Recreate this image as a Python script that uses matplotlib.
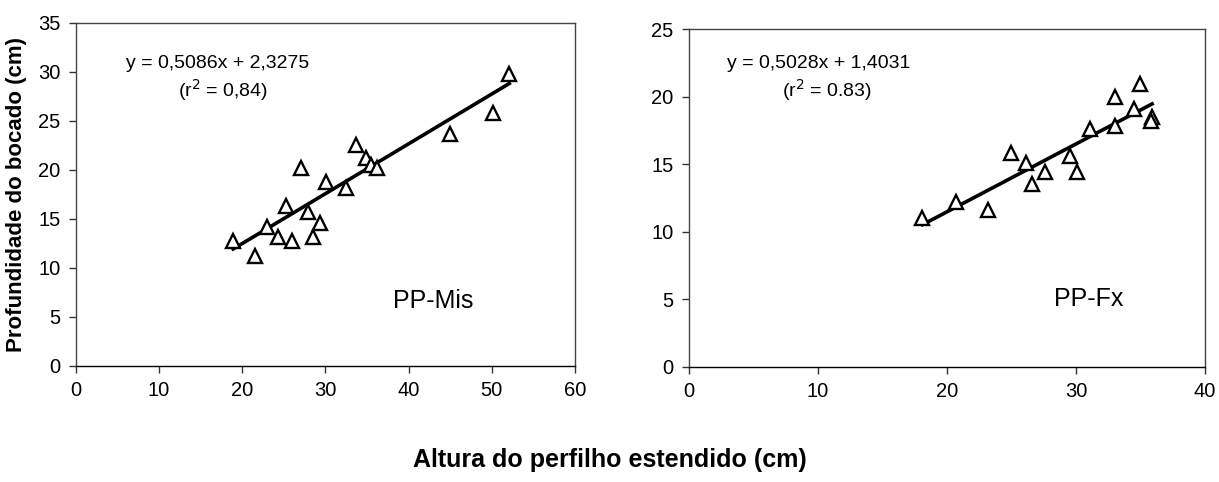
import numpy as np
import matplotlib
matplotlib.use("Agg")
import matplotlib.pyplot as plt

plt.rcParams['font.family'] = ['Liberation Sans', 'DejaVu Sans']

# ================================
# Data: PP-Mis
# ================================
mis_altura = [18.9, 21.5, 23.0, 24.3, 25.2, 26.0, 27.1, 27.9, 28.5, 29.4,
              30.1, 32.5, 33.7, 34.9, 35.5, 36.2, 45.0, 50.1, 52.1]
mis_prof = [12.8, 11.2, 14.2, 13.2, 16.3, 12.8, 20.2, 15.7, 13.2, 14.6,
            18.8, 18.2, 22.6, 21.2, 20.5, 20.2, 23.7, 25.8, 29.8]
mis_coef = (0.5086, 2.3275)

# ================================
# Data: PP-Fx
# ================================
fx_altura = [18.1, 20.7, 23.2, 25.0, 26.1, 26.6, 27.6, 29.5, 30.1, 31.1,
             33.0, 33.0, 34.5, 35.0, 35.9, 35.8]
fx_prof = [11.0, 12.2, 11.6, 15.8, 15.1, 13.5, 14.4, 15.6, 14.4, 17.6,
           19.95, 17.8, 19.1, 20.9, 18.5, 18.2]
fx_coef = (0.5028, 1.4031)

fig = plt.figure(figsize=(12.19, 4.82), dpi=100)
ax1 = fig.add_axes([0.0623, 0.2407, 0.4094, 0.7116])
ax2 = fig.add_axes([0.5652, 0.2396, 0.4233, 0.7002])


def draw_panel(ax, x, y, coef, xmax, ymax, eq, r2, eq_xy, r2_xy, tag, tag_xy):
    x = np.array(x)
    xs = np.array([x.min(), x.max()])
    ax.plot(xs, coef[0] * xs + coef[1], color='black', lw=2.6, zorder=2)
    ax.plot(x, y, linestyle='none', marker='^', markersize=10,
            markerfacecolor='white', markeredgecolor='black',
            markeredgewidth=1.7, zorder=3)
    ax.set_xlim(0, xmax)
    ax.set_ylim(0, ymax)
    ax.set_xticks(np.arange(0, xmax + 1, 10))
    ax.set_yticks(np.arange(0, ymax + 1, 5))
    ax.tick_params(direction='out', length=5, width=1, labelsize=14.5,
                   color='#333333', pad=6)
    for sp in ax.spines.values():
        sp.set_linewidth(1.0)
        sp.set_color('#444444')
    ax.spines['bottom'].set_color('black')
    ax.text(eq_xy[0], eq_xy[1], eq, transform=ax.transAxes, fontsize=14,
            ha='left', va='center')
    ax.text(r2_xy[0], r2_xy[1], r2, transform=ax.transAxes, fontsize=14,
            ha='left', va='center')
    ax.text(tag_xy[0], tag_xy[1], tag, transform=ax.transAxes, fontsize=18,
            ha='left', va='center')


draw_panel(ax1, mis_altura, mis_prof, mis_coef, 60, 35,
           'y = 0,5086x + 2,3275', '(r$^2$ = 0,84)', (0.10, 0.883), (0.205, 0.805),
           'PP-Mis', (0.635, 0.19))
draw_panel(ax2, fx_altura, fx_prof, fx_coef, 40, 25,
           'y = 0,5028x + 1,4031', '(r$^2$ = 0.83)', (0.074, 0.899), (0.18, 0.82),
           'PP-Fx', (0.708, 0.20))

ax1.set_ylabel('Profundidade do bocado (cm)', fontsize=16, fontweight='bold',
               labelpad=8)
fig.text(0.5, 0.045, 'Altura do perfilho estendido (cm)', fontsize=18,
         fontweight='bold', ha='center', va='center')

fig.savefig('out.png', dpi=100, facecolor='white')
